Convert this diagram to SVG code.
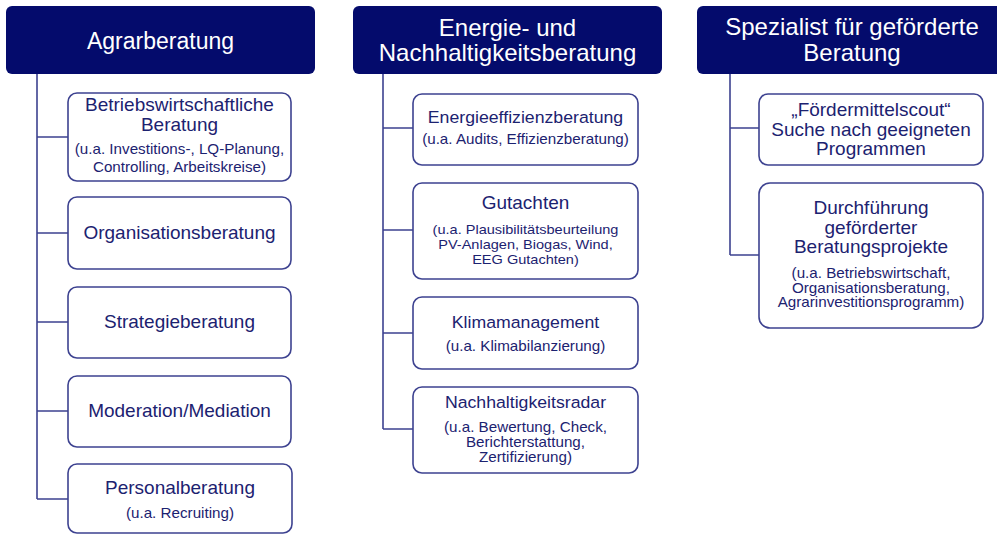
<svg xmlns="http://www.w3.org/2000/svg" width="997" height="534" viewBox="0 0 997 534">
<style>
.hdr{fill:#040b6c}
.ht{fill:#ffffff;font-family:"Liberation Sans",Arial,sans-serif;font-size:24px;text-anchor:middle}
.box{fill:#ffffff;stroke:#3d4290;stroke-width:1.6}
.t{fill:#1c2270;font-family:"Liberation Sans",Arial,sans-serif;font-size:17.5px;text-anchor:middle}
.tm{font-size:16.3px}
.s{fill:#1c2270;font-family:"Liberation Sans",Arial,sans-serif;font-size:14px;text-anchor:middle}
.sn{font-size:13.4px}
.c{fill:none;stroke:#3d4290;stroke-width:1.6}
</style>
<rect width="997" height="534" fill="#ffffff"/>
<g id="connectors">
<path class="c" d="M37,74 V499 M37,137 H68 M37,233 H68 M37,322 H68 M37,411 H68 M37,499 H68"/>
<path class="c" d="M383,74 V429 M383,128 H413 M383,230 H413 M383,333 H413 M383,429 H413"/>
<path class="c" d="M730,74 V255 M730,128 H759 M730,255 H759"/>
</g>
<g id="h1"><rect class="hdr" x="6" y="6" width="309" height="68" rx="6"/><text class="ht" x="160.5" y="49" style="font-size:23px">Agrarberatung</text></g>
<g id="h2"><rect class="hdr" x="353" y="6" width="309" height="68" rx="6"/><text class="ht" x="507.5" y="36">Energie- und</text><text class="ht" x="507.5" y="61">Nachhaltigkeitsberatung</text></g>
<g id="h3"><rect class="hdr" x="697" y="6" width="308" height="68" rx="6"/><text class="ht" x="852" y="35">Spezialist für geförderte</text><text class="ht" x="852" y="61">Beratung</text></g>

<g id="a1"><rect class="box" x="68" y="93" width="223" height="88" rx="9"/><g transform="matrix(1.086,0,0,1,-15.44,0)"><text class="t" x="179.5" y="111">Betriebswirtschaftliche</text><text class="t" x="179.5" y="131">Beratung</text><text class="s" x="179.5" y="154">(u.a. Investitions-, LQ-Planung,</text><text class="s" x="179.5" y="172">Controlling, Arbeitskreise)</text></g></g>
<g id="a2"><rect class="box" x="68" y="197" width="223" height="72" rx="9"/><g transform="matrix(1.086,0,0,1,-15.44,0)"><text class="t" x="179.5" y="239">Organisationsberatung</text></g></g>
<g id="a3"><rect class="box" x="68" y="287" width="223" height="71" rx="9"/><g transform="matrix(1.086,0,0,1,-15.44,0)"><text class="t" x="179.5" y="328">Strategieberatung</text></g></g>
<g id="a4"><rect class="box" x="68" y="376" width="223" height="71" rx="9"/><g transform="matrix(1.086,0,0,1,-15.44,0)"><text class="t" x="179.5" y="417">Moderation/Mediation</text></g></g>
<g id="a5"><rect class="box" x="68" y="464" width="224" height="69" rx="9"/><g transform="matrix(1.086,0,0,1,-15.48,0)"><text class="t" x="180" y="494">Personalberatung</text><text class="s" x="180" y="518">(u.a. Recruiting)</text></g></g>

<g id="e1"><rect class="box" x="413" y="94" width="225" height="71" rx="9"/><g transform="matrix(1.086,0,0,1,-45.19,0)"><text class="t tm" x="525.5" y="123">Energieeffizienzberatung</text><text class="s" x="525.5" y="144">(u.a. Audits, Effizienzberatung)</text></g></g>
<g id="e2"><rect class="box" x="413" y="183" width="225" height="96" rx="9"/><g transform="matrix(1.086,0,0,1,-45.19,0)"><text class="t" x="525.5" y="209">Gutachten</text><text class="s sn" x="525.5" y="234">(u.a. Plausibilitätsbeurteilung</text><text class="s sn" x="525.5" y="249">PV-Anlagen, Biogas, Wind,</text><text class="s sn" x="525.5" y="264">EEG Gutachten)</text></g></g>
<g id="e3"><rect class="box" x="413" y="297" width="225" height="72" rx="9"/><g transform="matrix(1.086,0,0,1,-45.19,0)"><text class="t tm" x="525.5" y="328">Klimamanagement</text><text class="s" x="525.5" y="351">(u.a. Klimabilanzierung)</text></g></g>
<g id="e4"><rect class="box" x="413" y="387" width="225" height="86" rx="9"/><g transform="matrix(1.086,0,0,1,-45.19,0)"><text class="t tm" x="525.5" y="408">Nachhaltigkeitsradar</text><text class="s" x="525.5" y="432">(u.a. Bewertung, Check,</text><text class="s" x="525.5" y="447">Berichterstattung,</text><text class="s" x="525.5" y="462">Zertifizierung)</text></g></g>

<g id="s1"><rect class="box" x="759" y="94" width="224" height="71" rx="9"/><g transform="matrix(1.086,0,0,1,-74.91,0)"><text class="t" x="871" y="116">„Fördermittelscout“</text><text class="t" x="871" y="136">Suche nach geeigneten</text><text class="t" x="871" y="155">Programmen</text></g></g>
<g id="s2"><rect class="box" x="759" y="183" width="224" height="145" rx="11"/><g transform="matrix(1.086,0,0,1,-74.91,0)"><text class="t" x="871" y="214">Durchführung</text><text class="t" x="871" y="234">geförderter</text><text class="t" x="871" y="253">Beratungsprojekte</text><text class="s" x="871" y="278">(u.a. Betriebswirtschaft,</text><text class="s" x="871" y="293">Organisationsberatung,</text><text class="s" x="871" y="307">Agrarinvestitionsprogramm)</text></g></g>
</svg>
